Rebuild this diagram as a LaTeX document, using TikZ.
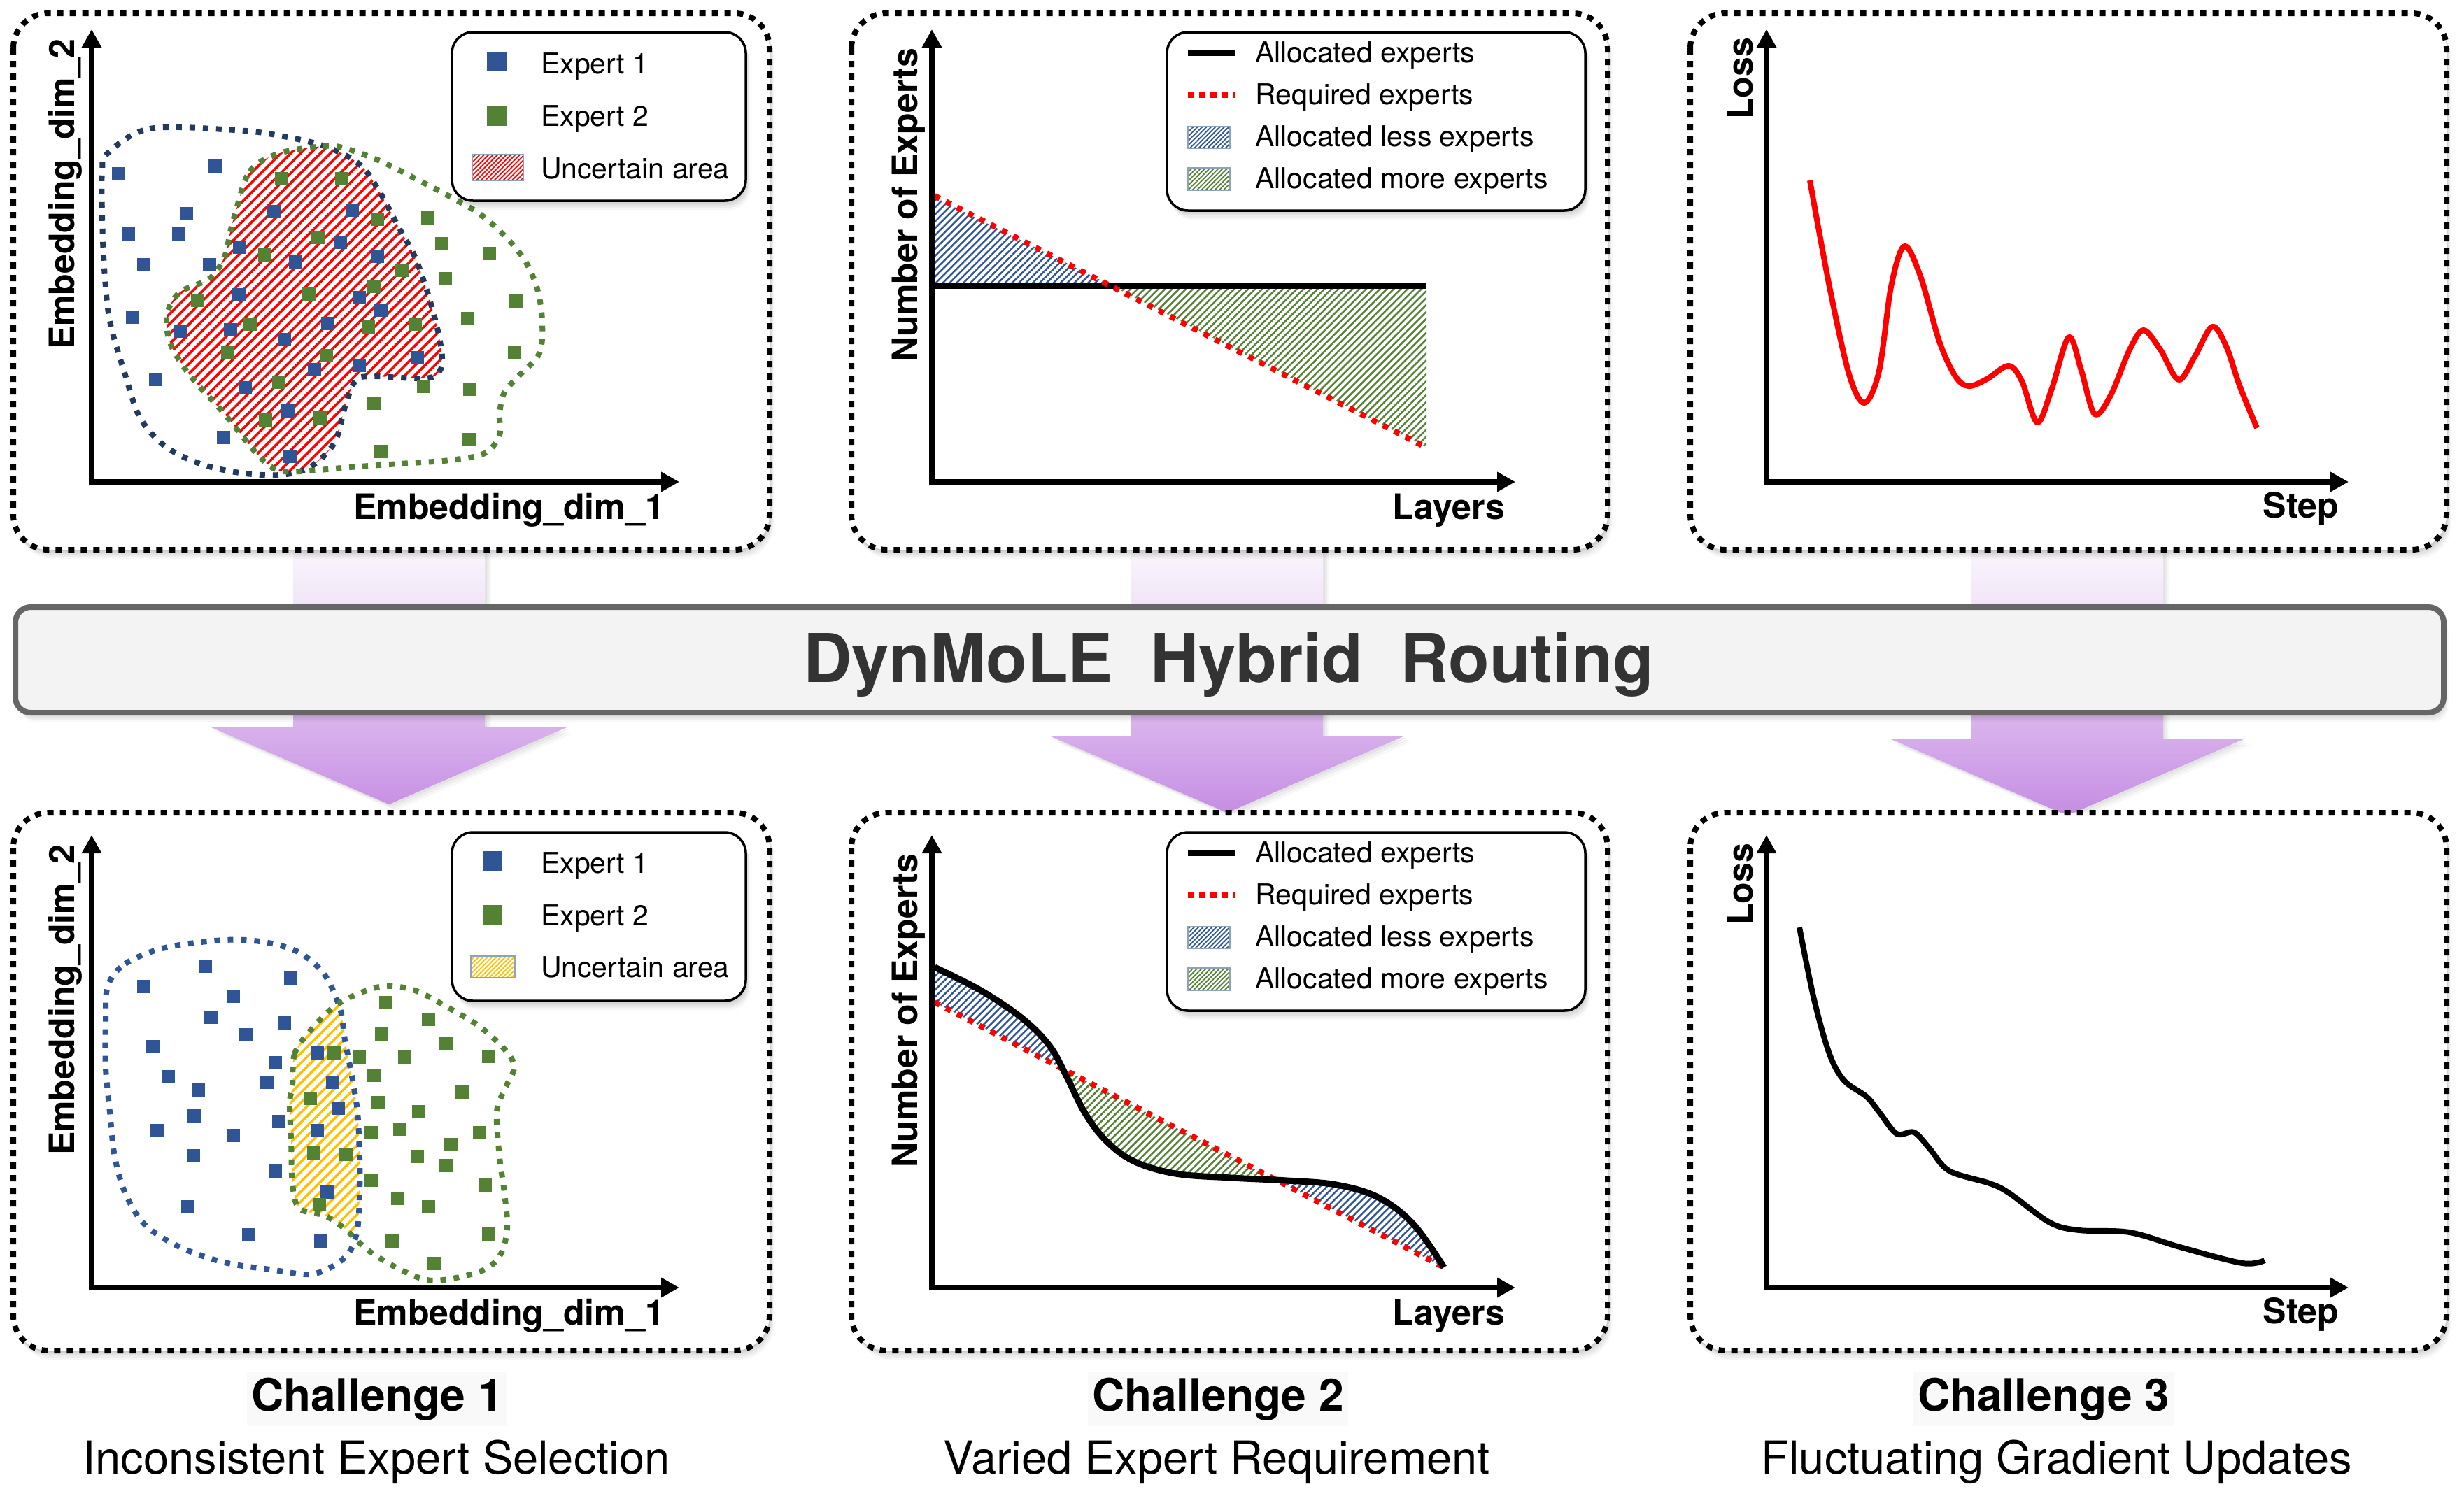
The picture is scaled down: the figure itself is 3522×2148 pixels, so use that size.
\documentclass[tikz,border=0pt]{standalone}
\usepackage{fontspec}
\setmainfont{TeX Gyre Heros}
\usetikzlibrary{arrows.meta,patterns.meta}

\definecolor{eblue}{HTML}{2F5597}
\definecolor{egreen}{HTML}{548235}
\definecolor{navyline}{HTML}{223A5E}
\definecolor{egold}{HTML}{FFC000}
\definecolor{bargray}{HTML}{666666}
\definecolor{barfill}{HTML}{F3F3F3}
\definecolor{titlegray}{HTML}{333333}
\definecolor{arrA}{HTML}{FAF6FC}
\definecolor{arrB}{HTML}{F0E2F7}
\definecolor{arrC}{HTML}{C68EE3}
\definecolor{swborder}{HTML}{8FA3B8}

\tikzset{
  panelbox/.style={draw=black, line width=8pt, dash pattern=on 9pt off 9pt, rounded corners=50pt, fill=white},
  axisline/.style={line width=8pt, line join=miter, {Triangle[length=26pt,width=27pt]}-{Triangle[length=26pt,width=27pt]}},
  legendbox/.style={draw=black, line width=3.5pt, rounded corners=30pt, fill=white},
  barbox/.style={draw=bargray, line width=8pt, rounded corners=22pt, fill=barfill},
  axlabel/.style={font=\bfseries\fontsize{50}{50}\selectfont, inner sep=0pt},
  legtext/.style={font=\fontsize{41}{41}\selectfont, inner sep=0pt, anchor=base west},
  chaltitle/.style={font=\bfseries\fontsize{64}{64}\selectfont, anchor=base, fill=black!2.5, inner xsep=6pt, inner ysep=8pt},
  chalsub/.style={font=\fontsize{65}{65}\selectfont, anchor=base, inner sep=0pt},
  blobline/.style={line width=8pt, dash pattern=on 8pt off 11pt},
  ptblue/.style={fill=eblue},
  ptgreen/.style={fill=egreen},
  alloc/.style={draw=black, line width=9pt},
  reqline/.style={draw=red, line width=8pt, dash pattern=on 8pt off 10pt},
  curve/.style={line width=8pt, line join=round},
  swatch/.style={draw=swborder, line width=1.5pt},
  hatchbig/.style={pattern={Lines[angle=45,distance=7pt,line width=2.5pt]}},
  hatchred/.style={pattern={Lines[angle=45,distance=10pt,line width=3.6pt]}, pattern color=red},
  hatchgold/.style={pattern={Lines[angle=45,distance=10pt,line width=3.5pt]}, pattern color=egold},
  hatchsmall/.style={pattern={Lines[angle=45,distance=4.5pt,line width=1.8pt]}},
}

\newcommand{\softshadow}[5]{%
  \foreach \sa/\sb in {2/0.06,4/0.05,7/0.05,10/0.04,13/0.03}{%
    \fill[black,opacity=\sb,rounded corners=#5] (#1+\sa*0.5,#2+\sa) rectangle (#3+\sa*0.5,#4+\sa);}%
}

\newcommand{\BlobBT}{plot[smooth cycle,tension=0.55] coordinates {(154,219) (214,184) (336,186) (400,194) (464,209) (514,235) (543,275) (571,327) (593,367) (611,418) (625,469) (632,510) (628,531) (607,541) (528,538) (507,546) (493,582) (478,633) (443,668) (400,679) (343,676) (286,663) (236,638) (200,597) (179,536) (157,459) (149,383) (146,306) (146,245)}}
\newcommand{\BlobGT}{plot[smooth cycle,tension=0.55] coordinates {(336,306) (357,245) (400,219) (464,209) (493,212) (543,230) (593,255) (643,281) (686,306) (721,337) (750,372) (768,413) (775,459) (771,505) (743,536) (721,561) (714,592) (714,622) (693,648) (643,658) (571,663) (500,668) (443,673) (400,673) (371,653) (321,592) (271,536) (243,490) (239,449) (257,418) (300,398) (321,367) (329,332)}}
\newcommand{\BlobBB}{plot[smooth cycle,tension=0.55] coordinates {(154,1410) (179,1378) (236,1355) (321,1344) (378,1347) (428,1362) (464,1394) (486,1442) (493,1487) (503,1539) (511,1590) (514,1654) (514,1706) (511,1757) (500,1789) (478,1809) (443,1822) (386,1815) (321,1805) (257,1783) (207,1751) (179,1706) (164,1654) (157,1590) (151,1526) (151,1462)}}
\newcommand{\BlobGB}{plot[smooth cycle,tension=0.55] coordinates {(418,1552) (421,1507) (443,1474) (478,1439) (514,1420) (550,1410) (593,1416) (643,1442) (686,1468) (721,1500) (735,1526) (721,1558) (710,1590) (714,1654) (721,1706) (725,1757) (714,1796) (686,1818) (621,1831) (578,1818) (528,1789) (493,1757) (464,1738) (428,1728) (418,1693) (416,1629) (414,1577)}}
\newcommand{\AllocB}{plot[smooth,tension=0.6] coordinates {(1336,1383) (1400,1415) (1460,1455) (1500,1495) (1525,1540) (1550,1590) (1580,1630) (1620,1660) (1680,1678) (1760,1684) (1840,1688) (1910,1694) (1970,1712) (2020,1750) (2064,1812)}}

\begin{document}
\begin{tikzpicture}[x=1pt,y=-1pt]
\useasboundingbox (0,0) rectangle (3522,2148);

% ---------- block arrows (vertical gradient built from strips) ----------
\foreach \cx/\ht/\tip in {556/1040/1150, 1754/1052/1162, 2955/1056/1166}{
  \foreach \sa/\sb in {3/0.05,6/0.04,9/0.03}{
    \fill[black,opacity=\sb] (\cx-137+\sa,786) -- (\cx-137+\sa,\ht+\sa) -- (\cx-254+\sa,\ht+\sa) -- (\cx+\sa,\tip+\sa) -- (\cx+254+\sa,\ht+\sa) -- (\cx+137+\sa,\ht+\sa) -- (\cx+137+\sa,786) -- cycle;}
  \begin{scope}
    \clip (\cx-137,786) -- (\cx-137,\ht) -- (\cx-254,\ht) -- (\cx,\tip) -- (\cx+254,\ht) -- (\cx+137,\ht) -- (\cx+137,786) -- cycle;
    \foreach \k in {0,...,20}{
      \pgfmathtruncatemacro\pc{100*\k/21}
      \fill[arrB!\pc!arrA] (\cx-260,786+\k*4) rectangle (\cx+260,790.6+\k*4);}
    \foreach \k in {0,...,76}{
      \pgfmathtruncatemacro\pc{min(100,100*\k/72)}
      \fill[arrC!\pc!arrB] (\cx-260,870+\k*4) rectangle (\cx+260,874.6+\k*4);}
  \end{scope}
}

% ---------- panels ----------
\foreach \px in {19,1217,2416}{
  \softshadow{\px}{19}{\px+1081}{786}{50pt}
  \softshadow{\px}{1162}{\px+1081}{1931}{50pt}
}
\foreach \px in {19,1217,2416}{
  \draw[panelbox] (\px,19) rectangle (\px+1081,786);
  \draw[panelbox] (\px,1162) rectangle (\px+1081,1931);
}

% ---------- central bar ----------
\softshadow{22}{868}{3493}{1019}{22pt}
\draw[barbox] (22,868) rectangle (3493,1019);
\node[font=\bfseries\fontsize{96}{96}\selectfont, text=titlegray, anchor=base, inner sep=0pt] (router) at (1756,975) {DynMoLE\hspace{0.556em}Hybrid\hspace{0.556em}Routing};

% =========== PANEL 1 TOP ===========
\begin{scope}
  \clip \BlobBT;
  \fill[white] \BlobGT;
  \fill[hatchred] \BlobGT;
\end{scope}
\draw[blobline, navyline] \BlobBT;
\draw[blobline, egreen] \BlobGT;
\foreach \x/\y in {169/248,307/237,266/305,183/334,255/334,205/378,299/378,189/453,222/542,319/625,391/302,503/300,342/353,486/346,422/374,539/366,341/421,513/425,544/443,258/473,329/471,468/462,406/485,596/511,449/528,513/522,350/554,411/587,414/652}
  \fill[ptblue] (\x-9.5,\y-9.5) rectangle +(19,19);
\foreach \x/\y in {402/255,488/255,539/313,611/311,454/339,631/348,699/362,378/364,574/386,636/398,534/409,441/420,282/429,737/430,668/455,357/463,526/467,593/463,325/504,466/508,735/504,398/546,605/552,671/556,534/576,379/600,457/597,670/628,544/645}
  \fill[ptgreen] (\x-9.5,\y-9.5) rectangle +(19,19);
\draw[axisline] (131,42) -- (131,689) -- (971,689);
\node[axlabel, anchor=base west, rotate=90] (ylab1) at (106,500) {Embedding\_dim\_2};
\node[axlabel, anchor=base east] (xlab1) at (950,742) {Embedding\_dim\_1};
% legend
\softshadow{646}{46}{1066}{287}{30pt}
\draw[legendbox] (646,46) rectangle (1066,287);
\fill[ptblue] (696,74) rectangle (725,102);
\fill[ptgreen] (696,151) rectangle (725,180);
\fill[white] (675,221) rectangle (748,258);
\fill[hatchsmall, pattern color=red] (675,221) rectangle (748,258);
\draw[swatch] (675,221) rectangle (748,258);
\node[legtext] (l1a) at (773,105) {Expert 1};
\node[legtext] (l1b) at (773,180) {Expert 2};
\node[legtext] (l1c) at (773,255) {Uncertain area};

% =========== PANEL 2 TOP ===========
\fill[hatchbig, pattern color=eblue] (1336,282) -- (1588,408) -- (1336,408) -- cycle;
\fill[hatchbig, pattern color=egreen] (1588,408) -- (2039,408) -- (2039,640) -- cycle;
\draw[alloc] (1336,408) -- (2039,408);
\draw[reqline] (1336,280) -- (2039,640);
\draw[axisline] (1332,42) -- (1332,689) -- (2166,689);
\node[axlabel, anchor=base west, rotate=90] (ylab2) at (1311,518) {Number of Experts};
\node[axlabel, anchor=base east] (xlab2) at (2151,742) {Layers};
\softshadow{1668}{46}{2266}{301}{30pt}
\draw[legendbox] (1668,46) rectangle (2266,301);
\draw[alloc] (1698,75) -- (1766,75);
\draw[reqline, dash pattern=on 9pt off 7pt] (1698,136) -- (1766,136);
\fill[hatchsmall, pattern color=eblue] (1698,181) rectangle (1758,212);
\draw[swatch] (1698,181) rectangle (1758,212);
\fill[hatchsmall, pattern color=egreen] (1698,240) rectangle (1758,272);
\draw[swatch] (1698,240) rectangle (1758,272);
\node[legtext] (l2a) at (1794,89) {Allocated experts};
\node[legtext] (l2b) at (1794,149) {Required experts};
\node[legtext] (l2c) at (1794,209) {Allocated less experts};
\node[legtext] (l2d) at (1794,269) {Allocated more experts};

% =========== PANEL 3 TOP ===========
\draw[curve, red] plot[smooth, tension=0.55] coordinates {(2587,258) (2615,410) (2643,535) (2665,576) (2686,530) (2703,410) (2722,352) (2745,395) (2772,488) (2795,538) (2814,552) (2840,542) (2871,523) (2890,545) (2912,604) (2933,555) (2957,482) (2975,530) (2994,592) (3017,565) (3044,500) (3064,472) (3088,500) (3114,543) (3137,510) (3162,467) (3182,495) (3201,551) (3226,612)};
\draw[axisline] (2525,42) -- (2525,689) -- (3357,689);
\node[axlabel, anchor=base west, rotate=90] (ylab3) at (2505,171) {Loss};
\node[axlabel, anchor=base east] (xlab3) at (3343,740) {Step};

% =========== PANEL 1 BOTTOM ===========
\begin{scope}
  \clip \BlobBB;
  \fill[white] \BlobGB;
  \fill[hatchgold] \BlobGB;
\end{scope}
\draw[blobline, eblue] \BlobBB;
\draw[blobline, egreen] \BlobGB;
\foreach \x/\y in {205/1410,293/1381,333/1424,415/1398,301/1454,406/1462,351/1479,218/1496,393/1519,453/1505,240/1539,381/1547,283/1558,475/1547,483/1584,277/1595,398/1603,224/1616,333/1623,453/1616,276/1652,393/1674,467/1704,268/1725,355/1765,458/1774}
  \fill[ptblue] (\x-9.5,\y-9.5) rectangle +(19,19);
\foreach \x/\y in {551/1433,612/1457,545/1478,637/1492,477/1505,513/1511,578/1511,698/1510,534/1537,443/1570,660/1561,540/1576,598/1589,530/1619,571/1614,685/1619,644/1636,448/1648,494/1650,596/1653,637/1666,530/1687,693/1694,568/1713,612/1725,456/1722,560/1774,698/1764,620/1806}
  \fill[ptgreen] (\x-9.5,\y-9.5) rectangle +(19,19);
\draw[axisline] (131,1194) -- (131,1841) -- (971,1841);
\node[axlabel, anchor=base west, rotate=90] (ylab4) at (106,1652) {Embedding\_dim\_2};
\node[axlabel, anchor=base east] (xlab4) at (950,1894) {Embedding\_dim\_1};
\softshadow{646}{1190}{1066}{1431}{30pt}
\draw[legendbox] (646,1190) rectangle (1066,1431);
\fill[ptblue] (690,1217) rectangle (718,1246);
\fill[ptgreen] (690,1294) rectangle (718,1323);
\fill[hatchsmall, pattern color=egold] (673,1367) rectangle (736,1398);
\draw[swatch] (673,1367) rectangle (736,1398);
\node[legtext] (l4a) at (773,1248) {Expert 1};
\node[legtext] (l4b) at (773,1323) {Expert 2};
\node[legtext] (l4c) at (773,1397) {Uncertain area};

% =========== PANEL 2 BOTTOM ===========
\begin{scope}
  \clip \AllocB -- (1336,1433) -- cycle;
  \fill[hatchbig, pattern color=eblue] (1300,1414) -- (2100,1831) -- (2100,1300) -- (1300,1300) -- cycle;
  \fill[hatchbig, pattern color=egreen] (1300,1414) -- (2100,1831) -- (2100,1900) -- (1300,1900) -- cycle;
\end{scope}
\draw[reqline] (1336,1433) -- (2064,1812);
\draw[alloc, line join=round] \AllocB;
\draw[axisline] (1332,1194) -- (1332,1841) -- (2166,1841);
\node[axlabel, anchor=base west, rotate=90] (ylab5) at (1311,1670) {Number of Experts};
\node[axlabel, anchor=base east] (xlab5) at (2151,1894) {Layers};
\softshadow{1668}{1190}{2266}{1445}{30pt}
\draw[legendbox] (1668,1190) rectangle (2266,1445);
\draw[alloc] (1698,1219) -- (1766,1219);
\draw[reqline, dash pattern=on 9pt off 7pt] (1698,1280) -- (1766,1280);
\fill[hatchsmall, pattern color=eblue] (1698,1325) rectangle (1758,1356);
\draw[swatch] (1698,1325) rectangle (1758,1356);
\fill[hatchsmall, pattern color=egreen] (1698,1384) rectangle (1758,1416);
\draw[swatch] (1698,1384) rectangle (1758,1416);
\node[legtext] (l5a) at (1794,1233) {Allocated experts};
\node[legtext] (l5b) at (1794,1293) {Required experts};
\node[legtext] (l5c) at (1794,1353) {Allocated less experts};
\node[legtext] (l5d) at (1794,1413) {Allocated more experts};

% =========== PANEL 3 BOTTOM ===========
\draw[curve, black] plot[smooth, tension=0.55] coordinates {(2572,1326) (2593,1429) (2615,1507) (2636,1545) (2668,1568) (2686,1590) (2711,1621) (2736,1619) (2758,1642) (2786,1674) (2844,1692) (2872,1706) (2930,1748) (2972,1759) (3044,1762) (3116,1783) (3205,1806) (3237,1802)};
\draw[axisline] (2525,1194) -- (2525,1841) -- (3357,1841);
\node[axlabel, anchor=base west, rotate=90] (ylab6) at (2505,1323) {Loss};
\node[axlabel, anchor=base east] (xlab6) at (3343,1892) {Step};

% =========== captions ===========
\node[chaltitle] (c1) at (539,2017) {Challenge 1};
\node[chaltitle] (c2) at (1741,2017) {Challenge 2};
\node[chaltitle] (c3) at (2921,2017) {Challenge 3};
\node[chalsub] (s1) at (538,2107) {Inconsistent Expert Selection};
\node[chalsub] (s2) at (1739,2107) {Varied Expert Requirement};
\node[chalsub] (s3) at (2940,2107) {Fluctuating Gradient Updates};
\end{tikzpicture}
\end{document}
